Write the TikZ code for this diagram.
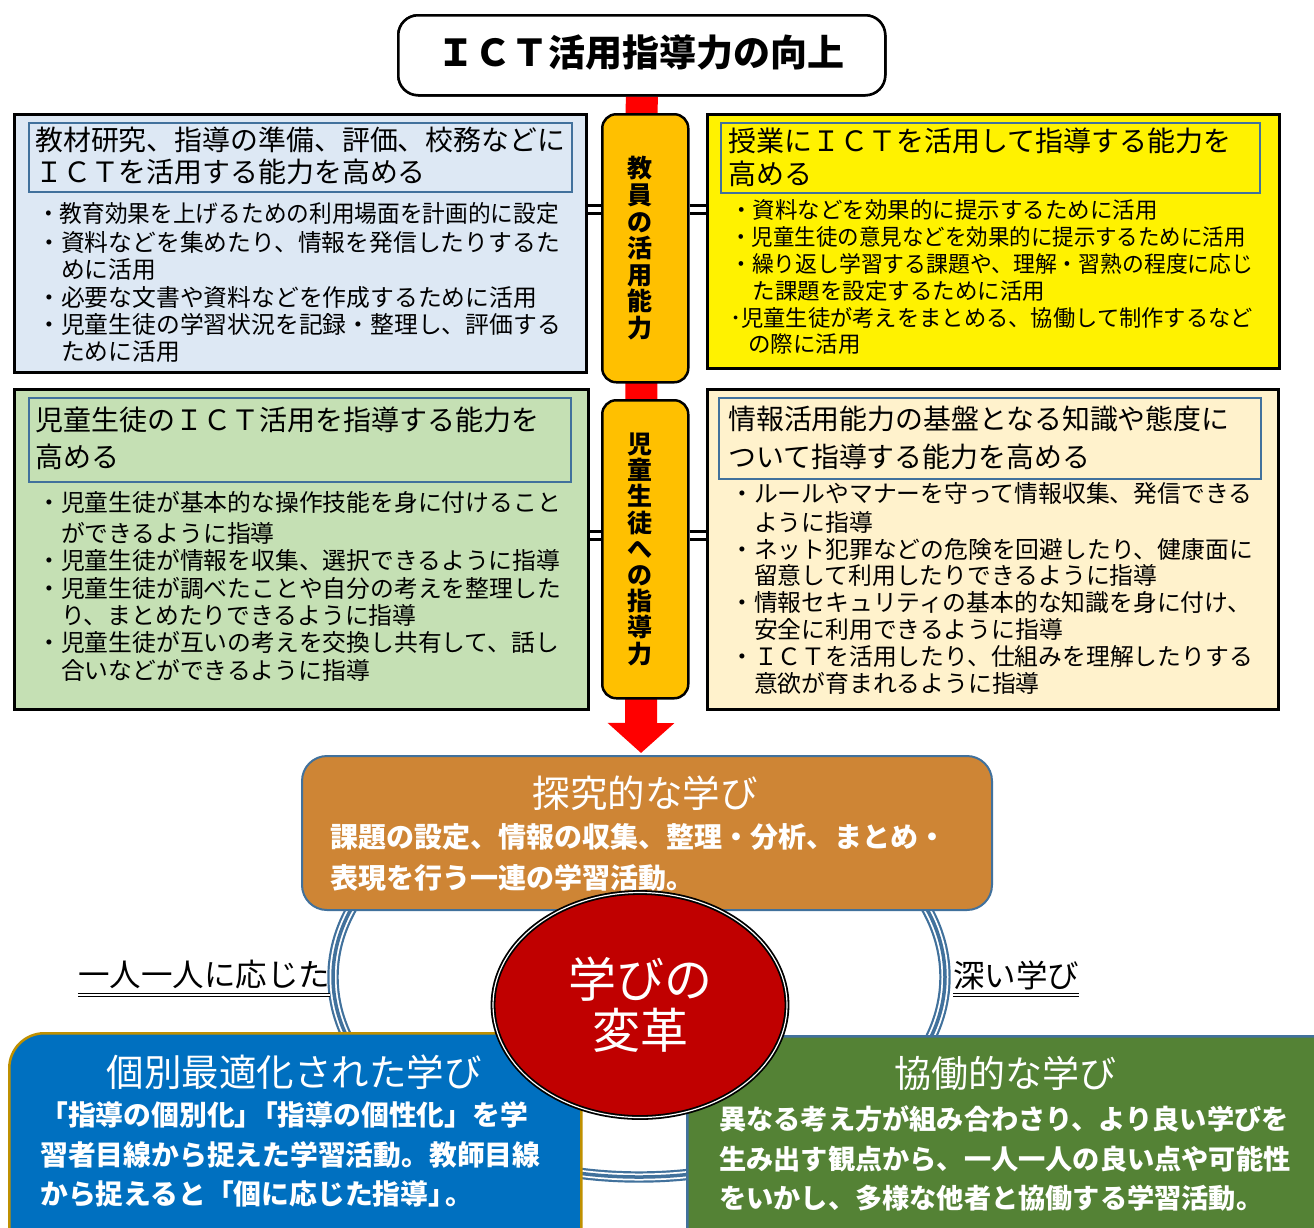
\documentclass[tikz,border=0pt]{standalone}
\usepackage{fontspec}
\usepackage{graphicx}
\newfontfamily\cjk{Noto Sans CJK JP}
\usetikzlibrary{arrows.meta,shapes.geometric}
\definecolor{panelblue}{HTML}{DDE8F4}
\definecolor{steel}{HTML}{41719C}
\definecolor{amber}{HTML}{FFC000}
\definecolor{leaf}{HTML}{C5E0B4}
\definecolor{cream}{HTML}{FFF2CC}
\definecolor{clay}{HTML}{CE8535}
\definecolor{ocean}{HTML}{0070C0}
\definecolor{gold}{HTML}{BF9000}
\definecolor{moss}{HTML}{548235}
\definecolor{crimson}{HTML}{C00000}
\newcommand\myfs[2]{\cjk\fontsize{#1}{#2}\selectfont}
\newcommand\squeeze[2]{\scalebox{#1}[1]{#2}}
\begin{document}
\begin{tikzpicture}[x=1pt,y=-1pt,
  panel/.style={draw=black, line width=3pt, rectangle, anchor=north west, inner sep=0pt},
  headbox/.style={draw=steel, line width=2.2pt, rectangle, anchor=north west, inner sep=0pt},
  pillar/.style={draw=black, line width=2.5pt, fill=amber, rounded corners=14pt, rectangle, anchor=north west, inner sep=0pt},
  txt/.style={anchor=north west, inner sep=0pt, align=left, text=black},
  link/.style={draw=black, line width=3pt, double=white, double distance=5pt},
  redbar/.style={draw=red, line width=32pt, -{Triangle[width=65pt,length=30pt]}},
  bigbox/.style={rectangle, anchor=north west, inner sep=0pt},
  wtitle/.style={text=white, inner sep=0pt, anchor=center},
  wbody/.style={text=white, inner sep=0pt, anchor=north west, align=left},
  ulab/.style={inner sep=0pt, anchor=center, text=black},
  uline/.style={draw=black, line width=1.1pt, double=white, double distance=1.6pt}
]
\useasboundingbox (0,0) rectangle (1314,1227);
\clip (0,0) rectangle (1314,1227);

% title and red main arrow
\coordinate (tip) at (641,753);
\node[draw=black, line width=2.5pt, fill=white, rounded corners=20pt, rectangle, anchor=north west,
      minimum width=487pt, minimum height=80pt, inner sep=0pt] (title) at (397,14) {};
\draw[redbar] (title.south) -- (tip);
\node[draw=black, line width=2.5pt, fill=white, rounded corners=20pt, rectangle, anchor=north west,
      minimum width=487pt, minimum height=80pt, inner sep=0pt] (titlebox) at (397,14) {};
\node[inner sep=0pt, anchor=center, font=\myfs{37}{40}\bfseries] (titletext) at (640.5,52) {ＩＣＴ活用指導力の向上};

% pillars
\node[pillar, minimum width=86pt, minimum height=268pt] (p1) at (601,113) {};
\node[pillar, minimum width=86pt, minimum height=298pt] (p2) at (601,399) {};
\node[inner sep=0pt, align=center, font=\myfs{25}{26.6}\bfseries] (p1t) at ([xshift=-5pt]p1.center) {教\\員\\の\\活\\用\\能\\力};
\node[inner sep=0pt, align=center, font=\myfs{25}{26.2}\bfseries] (p2t) at ([xshift=-5pt]p2.center) {児\\童\\生\\徒\\へ\\の\\指\\導\\力};

% panels
\node[panel, fill=panelblue, minimum width=572pt, minimum height=258pt] (tl) at (13,113) {};
\node[headbox, minimum width=543pt, minimum height=69pt] (tlh) at (28,122) {};
\node[txt, font=\myfs{27.9}{32}] (tlht) at (35,127.2) {教材研究、指導の準備、評価、校務などに\\ＩＣＴを活用する能力を高める};
\node[txt, font=\myfs{23.8}{27.4}] (tlb) at (37,202.1) {\squeeze{0.953}{・教育効果を上げるための利用場面を計画的に設定}\\[1.5pt]・資料などを集めたり、情報を発信したりするた\\\hspace*{1em}めに活用\\・必要な文書や資料などを作成するために活用\\・児童生徒の学習状況を記録・整理し、評価する\\\hspace*{1em}ために活用};

\node[panel, fill=yellow, minimum width=572pt, minimum height=254pt] (tr) at (706,113) {};
\node[headbox, minimum width=539pt, minimum height=70pt] (trh) at (720,122) {};
\node[txt, font=\myfs{28}{33}] (trht) at (728,128) {授業にＩＣＴを活用して指導する能力を\\高める};
\node[txt, font=\myfs{22.5}{26.8}] (trb) at (730,199.7) {・資料などを効果的に提示するために活用\\\squeeze{0.955}{・児童生徒の意見などを効果的に提示するために活用}\\\squeeze{0.97}{・繰り返し学習する課題や、理解・習熟の程度に応じ}\\\hspace*{1em}た課題を設定するために活用\\\squeeze{0.99}{･児童生徒が考えをまとめる、協働して制作するなど}\\\hspace*{0.8em}の際に活用};

\node[panel, fill=leaf, minimum width=574pt, minimum height=320pt] (bl) at (13,388) {};
\node[headbox, minimum width=542pt, minimum height=84pt] (blh) at (28,397) {};
\node[txt, font=\myfs{28}{37}] (blht) at (35,407.1) {児童生徒のＩＣＴ活用を指導する能力を\\高める};
\node[txt, font=\myfs{23.8}{27.4}] (blb) at (37,491) {・児童生徒が基本的な操作技能を身に付けること\\[3.5pt]\hspace*{1em}ができるように指導\\・児童生徒が情報を収集、選択できるように指導\\・児童生徒が調べたことや自分の考えを整理した\\\hspace*{1em}り、まとめたりできるように指導\\・児童生徒が互いの考えを交換し共有して、話し\\\hspace*{1em}合いなどができるように指導};

\node[panel, fill=cream, minimum width=571pt, minimum height=320pt] (br) at (706,388) {};
\node[headbox, minimum width=542pt, minimum height=81pt] (brh) at (718,397) {};
\node[txt, font=\myfs{27.9}{38}] (brht) at (728,406.2) {情報活用能力の基盤となる知識や態度に\\ついて指導する能力を高める};
\node[txt, font=\myfs{23.8}{26.9}] (brb) at (730,482) {・ルールやマナーを守って情報収集、発信できる\\[2pt]\hspace*{1em}ように指導\\・ネット犯罪などの危険を回避したり、健康面に\\\hspace*{1em}留意して利用したりできるように指導\\・情報セキュリティの基本的な知識を身に付け、\\\hspace*{1em}安全に利用できるように指導\\・ＩＣＴを活用したり、仕組みを理解したりする\\\hspace*{1em}意欲が育まれるように指導};

% double-line links
\coordinate (k1) at (0,209);
\coordinate (k2) at (0,535);
\draw[link] (tl.east |- k1) -- (p1.west |- k1);
\draw[link] (p1.east |- k1) -- (tr.west |- k1);
\draw[link] (bl.east |- k2) -- (p2.west |- k2);
\draw[link] (p2.east |- k2) -- (br.west |- k2);

% ring
\draw[steel, line width=2.2pt, double=white, double distance=7pt] (639,977) ellipse [x radius=306pt, y radius=200pt];
\draw[steel, line width=3.5pt] (639,977) ellipse [x radius=306pt, y radius=200pt];

% three learning boxes
\node[bigbox, fill=clay, draw=steel, line width=2pt, rounded corners=25pt, minimum width=690pt, minimum height=154pt] (inq) at (301,755) {};
\node[wtitle, font=\myfs{37.5}{40}] (inqt) at (645,793) {探究的な学び};
\node[wbody, font=\myfs{28}{41}\bfseries] (inqb) at (330,823.1) {課題の設定、情報の収集、整理・分析、まとめ・\\表現を行う一連の学習活動。};

\node[bigbox, fill=ocean, draw=gold, line width=2.5pt, rounded corners=35pt, minimum width=572pt, minimum height=260pt] (ind) at (8,1032) {};
\node[wtitle, font=\myfs{37.5}{40}] (indt) at (294,1072) {個別最適化された学び};
\node[wbody, font=\myfs{27.8}{39.5}\bfseries] (indb) at (40,1101.4) {「指導の個別化」\hspace{-0.45em}「指導の個性化」を学\\習者目線から捉えた学習活動。教師目線\\から捉えると「個に応じた指導」\hspace{-0.4em}。};

\node[bigbox, fill=moss, draw=steel, line width=2.5pt, rounded corners=32pt, minimum width=660pt, minimum height=260pt] (col) at (686,1035) {};
\node[wtitle, font=\myfs{37}{40}] (colt) at (1005,1073) {協働的な学び};
\node[wbody, font=\myfs{27.2}{39.5}\bfseries] (colb) at (719,1105.5) {異なる考え方が組み合わさり、より良い学びを\\生み出す観点から、一人一人の良い点や可能性\\をいかし、多様な他者と協働する学習活動。};

% centre circle
\node[ellipse, fill=crimson, draw=black, line width=1.8pt, double=white, double distance=1.2pt,
      minimum width=294pt, minimum height=225pt, inner sep=0pt] (core) at (640,1005) {};
\node[inner sep=0pt, align=center, text=white, font=\myfs{48}{51}] (coret) at (640,1005) {学びの\\変革};

% side labels
\node[ulab, font=\myfs{31.5}{34}] (lab1) at (204,975) {一人一人に応じた};
\node[ulab, font=\myfs{31.5}{34}] (lab2) at (1016,975) {深い学び};
\draw[uline] ([yshift=-5pt]lab1.south west) -- ([yshift=-5pt]lab1.south east);
\draw[uline] ([yshift=-5pt]lab2.south west) -- ([yshift=-5pt]lab2.south east);
\end{tikzpicture}
\end{document}
